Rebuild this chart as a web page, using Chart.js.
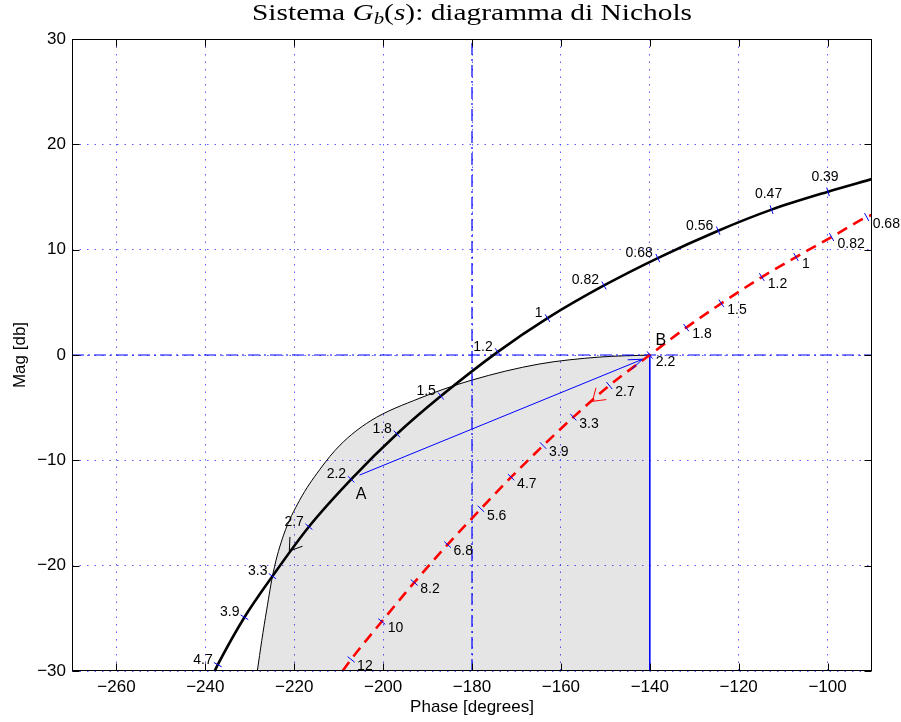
<!DOCTYPE html>
<html>
<head>
<meta charset="utf-8">
<script src="https://cdn.jsdelivr.net/npm/chart.js@4.4.0/dist/chart.umd.min.js"></script>
<style>
  html, body { margin: 0; padding: 0; background: #fff; }
</style>
</head>
<body>
<canvas id="nichols" width="901" height="722"></canvas>
<script>
// black curve (first system), frequency marks in rad/s
const blackFreq = ['', '4.7', '3.9', '3.3', '2.7', '2.2', '1.8', '1.5', '1.2', '1', '0.82', '0.68', '0.56', '0.47', '0.39', ''];
const blackPhase = [-237.9, -237.2, -231.2, -224.9, -216.7, -207.2, -196.9, -187.0, -174.2, -163.0, -150.3, -138.2, -124.6, -112.6, -99.9, -90];
const blackMag = [-30, -29.4, -24.9, -21.0, -16.3, -11.8, -7.5, -3.9, 0.3, 3.5, 6.6, 9.2, 11.8, 13.8, 15.5, 16.7];

// red dashed curve (compensated system)
const redFreq = ['', '12', '10', '8.2', '6.8', '5.6', '4.7', '3.9', '3.3', '2.7', '2.2', '1.8', '1.5', '1.2', '1', '0.82', '0.68', ''];
const redPhase = [-209.1, -207.2, -200.3, -193.0, -185.5, -178.0, -171.2, -164.0, -157.2, -149.1, -140.0, -131.8, -123.9, -114.8, -107.1, -99.1, -91.2, -90];
const redMag = [-30, -28.9, -25.3, -21.6, -18.0, -14.6, -11.6, -8.6, -5.9, -2.9, 0, 2.6, 4.9, 7.4, 9.3, 11.2, 13.1, 13.3];

// upper edge of the shaded region
const regionPhase = [-228.3, -227.3, -226.2, -224.7, -222.4, -218.8, -214.3, -209.7, -202.9, -191.7, -180.0, -164.9, -151.4, -140.0];
const regionMag = [-30, -27.1, -24.2, -20.6, -17.1, -13.8, -10.9, -8.56, -6.27, -4.09, -2.38, -0.86, -0.2, 0];

// A -> B arrow
const abPhase = [-205.3, -141.6];
const abMag = [-11.4, -0.4];

// direction arrows on the curves
const blackArrow = [-221.1, -18.6];
const redArrow = [-152.9, -4.4];

const xTicks = [-260, -240, -220, -200, -180, -160, -140, -120, -100];
const yTicks = [-30, -20, -10, 0, 10, 20, 30];

const pts = (xs, ys) => xs.map((x, i) => ({ x: x, y: ys[i] }));
const minus = v => (v < 0 ? '\u2212' + Math.abs(v) : '' + v);
const SANS = '"Liberation Sans", Arial, Helvetica, sans-serif';
const SERIF = '"Liberation Serif", "Times New Roman", serif';

function toPx(chart, x, y) {
  return [chart.scales.x.getPixelForValue(x), chart.scales.y.getPixelForValue(y)];
}

function drawMarks(ctx, chart, phase, mag, freq, side) {
  ctx.font = '14px ' + SANS;
  ctx.textBaseline = 'middle';
  for (let i = 0; i < freq.length; i++) {
    if (!freq[i]) continue;
    const [x, y] = toPx(chart, phase[i], mag[i]);
    const [x0, y0] = toPx(chart, phase[i - 1], mag[i - 1]);
    const [x1, y1] = toPx(chart, phase[i + 1], mag[i + 1]);
    let dx = x1 - x0, dy = y1 - y0;
    const len = Math.hypot(dx, dy);
    dx /= len; dy /= len;
    ctx.strokeStyle = '#0000ff';
    ctx.lineWidth = 1;
    ctx.beginPath();
    ctx.moveTo(x - dy * 4.5, y + dx * 4.5);
    ctx.lineTo(x + dy * 4.5, y - dx * 4.5);
    ctx.stroke();
    ctx.fillStyle = '#000';
    if (side === 'left') {
      const ang = Math.abs(Math.atan2(dy, dx)) * 180 / Math.PI;
      if (ang < 21) {
        ctx.textAlign = 'center';
        ctx.fillText(freq[i], x - 3, y - 15);
      } else {
        ctx.textAlign = 'right';
        ctx.fillText(freq[i], x - 5, y - 5);
      }
    } else {
      ctx.textAlign = 'left';
      ctx.fillText(freq[i], x + 6, y + 7);
    }
  }
}

function arrowHead(ctx, tx, ty, bx, by, len, half, color) {
  const a = Math.atan2(by, bx);
  ctx.strokeStyle = color;
  ctx.lineWidth = 1;
  ctx.setLineDash([]);
  ctx.beginPath();
  ctx.moveTo(tx + len * Math.cos(a - half), ty + len * Math.sin(a - half));
  ctx.lineTo(tx, ty);
  ctx.lineTo(tx + len * Math.cos(a + half), ty + len * Math.sin(a + half));
  ctx.stroke();
}

function curveArrow(ctx, chart, phase, mag, at, color) {
  let k = 1;
  while (k < phase.length - 1 && phase[k] < at[0]) k++;
  const [xa, ya] = toPx(chart, phase[k - 1], mag[k - 1]);
  const [xb, yb] = toPx(chart, phase[k], mag[k]);
  const [tx, ty] = toPx(chart, at[0], at[1]);
  // arrow points toward increasing frequency (decreasing phase)
  arrowHead(ctx, tx, ty, xb - xa, yb - ya, 14, 34 * Math.PI / 180, color);
}

const overlay = {
  id: 'overlay',
  afterDatasetsDraw(chart) {
    const ctx = chart.ctx;
    const a = chart.chartArea;
    ctx.save();

    drawMarks(ctx, chart, blackPhase, blackMag, blackFreq, 'left');
    drawMarks(ctx, chart, redPhase, redMag, redFreq, 'right');

    curveArrow(ctx, chart, blackPhase, blackMag, blackArrow, '#000');
    curveArrow(ctx, chart, redPhase, redMag, redArrow, '#ff0000');

    const [sx, sy] = toPx(chart, abPhase[0], abMag[0]);
    const [ex, ey] = toPx(chart, abPhase[1], abMag[1]);
    arrowHead(ctx, ex, ey, sx - ex, sy - ey, 15, 20 * Math.PI / 180, '#0000ff');

    // point labels
    ctx.font = '16px ' + SANS;
    ctx.fillStyle = '#000';
    ctx.textAlign = 'center';
    ctx.textBaseline = 'middle';
    const [axp, ayp] = toPx(chart, blackPhase[5], blackMag[5]);
    ctx.fillText('A', axp + 10, ayp + 15);
    const [bxp, byp] = toPx(chart, redPhase[10], redMag[10]);
    ctx.fillText('B', bxp + 11, byp - 14);

    // axes box with inward ticks
    ctx.strokeStyle = '#000';
    ctx.lineWidth = 1;
    ctx.setLineDash([]);
    const L = Math.round(a.left) + 0.5, R = Math.round(a.right) - 0.5;
    const T = Math.round(a.top) + 0.5, B = Math.round(a.bottom) - 0.5;
    ctx.strokeRect(L, T, R - L, B - T);
    ctx.beginPath();
    xTicks.forEach(v => {
      const x = Math.round(chart.scales.x.getPixelForValue(v)) + 0.5;
      ctx.moveTo(x, B); ctx.lineTo(x, B - 7);
      ctx.moveTo(x, T); ctx.lineTo(x, T + 7);
    });
    yTicks.forEach(v => {
      const y = Math.round(chart.scales.y.getPixelForValue(v)) + 0.5;
      ctx.moveTo(L, y); ctx.lineTo(L + 7, y);
      ctx.moveTo(R, y); ctx.lineTo(R - 7, y);
    });
    ctx.stroke();
    ctx.restore();
  },
  afterDraw(chart) {
    const ctx = chart.ctx;
    const a = chart.chartArea;
    const parts = [
      ['Sistema ', '', 24, 0],
      ['G', 'italic ', 24, 0],
      ['b', 'italic ', 17, 4],
      ['(', '', 24, 0],
      ['s', 'italic ', 24, 0],
      ['): diagramma di Nichols', '', 24, 0]
    ];
    ctx.save();
    let w = 0;
    parts.forEach(p => {
      ctx.font = p[1] + p[2] + 'px ' + SERIF;
      w += ctx.measureText(p[0]).width;
    });
    const target = 440;
    const cx = (a.left + a.right) / 2;
    ctx.translate(cx - target / 2, 20);
    ctx.scale(target / w, 1);
    ctx.fillStyle = '#000';
    ctx.textBaseline = 'alphabetic';
    ctx.textAlign = 'left';
    let x = 0;
    parts.forEach(p => {
      ctx.font = p[1] + p[2] + 'px ' + SERIF;
      ctx.fillText(p[0], x, p[3]);
      x += ctx.measureText(p[0]).width;
    });
    ctx.restore();
  }
};

const ctx = document.getElementById('nichols').getContext('2d');
const nichols = new Chart(ctx, {
  type: 'scatter',
  data: {
    datasets: [
      {
        label: 'black',
        data: pts(blackPhase, blackMag),
        showLine: true,
        borderColor: '#000',
        borderWidth: 2.6,
        pointRadius: 0,
        cubicInterpolationMode: 'monotone',
        order: 1
      },
      {
        label: 'red',
        data: pts(redPhase, redMag),
        showLine: true,
        borderColor: '#ff0000',
        borderWidth: 2.6,
        borderDash: [11, 7],
        pointRadius: 0,
        cubicInterpolationMode: 'monotone',
        order: 2
      },
      {
        label: 'AB',
        data: pts(abPhase, abMag),
        showLine: true,
        borderColor: '#0000ff',
        borderWidth: 1,
        pointRadius: 0,
        order: 3
      },
      {
        label: 'region',
        data: pts(regionPhase, regionMag),
        showLine: true,
        borderColor: '#000',
        borderWidth: 1,
        backgroundColor: 'rgba(0,0,0,0.1)',
        fill: { value: -30 },
        pointRadius: 0,
        cubicInterpolationMode: 'monotone',
        order: 6
      },
      {
        label: 'edge',
        data: pts([-140, -140], [0, -30]),
        showLine: true,
        borderColor: '#0000ff',
        borderWidth: 1,
        pointRadius: 0,
        order: 5
      },
      {
        label: 'zero dB',
        data: pts([-270, -90], [0, 0]),
        showLine: true,
        borderColor: '#0000ff',
        borderWidth: 1,
        borderDash: [12, 4, 2, 4],
        pointRadius: 0,
        order: 4
      },
      {
        label: '-180',
        data: pts([-180, -180], [-30, 30]),
        showLine: true,
        borderColor: '#0000ff',
        borderWidth: 1.2,
        borderDash: [12, 4, 2, 4],
        pointRadius: 0,
        order: 4
      }
    ]
  },
  options: {
    responsive: false,
    animation: false,
    devicePixelRatio: 1,
    layout: { padding: { top: 39, right: 29, left: 0, bottom: 0 } },
    plugins: {
      legend: { display: false },
      tooltip: { enabled: false },
      title: { display: false }
    },
    scales: {
      x: {
        type: 'linear',
        min: -270,
        max: -90,
        afterBuildTicks: s => { s.ticks = xTicks.map(v => ({ value: v })); },
        afterFit: s => { s.height = 51; },
        ticks: {
          callback: minus,
          color: '#000',
          font: { family: SANS, size: 17 },
          padding: 6,
          maxRotation: 0
        },
        grid: { color: 'rgba(50,50,255,0.8)', lineWidth: 1, drawTicks: false, borderDash: [1.5, 6] },
        border: { display: false, dash: [1.5, 6] },
        title: {
          display: true,
          text: 'Phase [degrees]',
          color: '#000',
          font: { family: SANS, size: 17 },
          padding: { top: 0, bottom: 4 }
        }
      },
      y: {
        type: 'linear',
        min: -30,
        max: 30,
        afterBuildTicks: s => { s.ticks = yTicks.map(v => ({ value: v })); },
        afterFit: s => { s.width = 72; },
        ticks: {
          callback: minus,
          color: '#000',
          font: { family: SANS, size: 17 },
          padding: 6
        },
        grid: { color: 'rgba(50,50,255,0.8)', lineWidth: 1, drawTicks: false, borderDash: [1.5, 6] },
        border: { display: false, dash: [1.5, 6] },
        title: {
          display: true,
          text: 'Mag [db]',
          color: '#000',
          font: { family: SANS, size: 17 },
          padding: { top: 10, bottom: 0 }
        }
      }
    }
  },
  plugins: [overlay]
});
</script>
</body>
</html>
